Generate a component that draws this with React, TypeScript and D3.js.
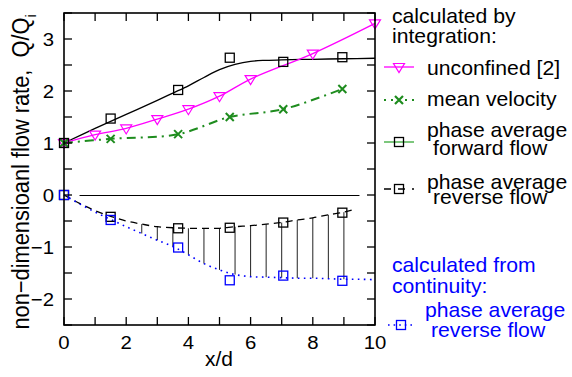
import React from "react";
import * as d3 from "d3";

// marker positions (x/d) shared by the measured series
const measX = [0, 1.5, 3.67, 5.33, 7.05, 8.95];

// unconfined [2]
const unconfX = [0, 1, 2, 3, 4, 5, 6, 8, 10];
const unconfY = [1.0, 1.16, 1.28, 1.46, 1.65, 1.9, 2.23, 2.72, 3.3];

// mean velocity
const meanY = [1.0, 1.08, 1.17, 1.5, 1.65, 2.04];

// phase average forward flow (points + fitted curve)
const fwdY = [1.0, 1.47, 2.02, 2.64, 2.56, 2.65];
const fwdFitX = [0, 1, 2, 3, 3.5, 4, 4.5, 5, 5.5, 6, 6.5, 7, 8, 9, 10];
const fwdFitY = [1.0, 1.28, 1.55, 1.82, 1.96, 2.1, 2.26, 2.41, 2.51, 2.57, 2.59, 2.6, 2.61, 2.62, 2.63];

// phase average reverse flow (points + fitted curve)
const revY = [0, -0.42, -0.64, -0.63, -0.53, -0.34];
const revFitX = [0, 0.5, 1, 1.5, 2, 2.5, 3, 3.5, 4, 4.5, 5, 5.5, 6, 6.5, 7, 7.5, 8, 8.5, 9, 9.25];
const revFitY = [0, -0.16, -0.3, -0.41, -0.5, -0.56, -0.61, -0.63, -0.64, -0.64, -0.64, -0.61, -0.59, -0.56, -0.53, -0.48, -0.44, -0.38, -0.33, -0.29];

// calculated from continuity (points + fitted curve)
const contY = [0, -0.48, -1.01, -1.64, -1.55, -1.65];
const contFitX = [0, 0.5, 1, 1.5, 2, 2.5, 3, 3.5, 4, 4.5, 5, 5.5, 6, 6.5, 7, 7.5, 8, 8.5, 9, 9.5, 10];
const contFitY = [0, -0.17, -0.33, -0.47, -0.61, -0.74, -0.87, -0.99, -1.15, -1.32, -1.44, -1.53, -1.57, -1.58, -1.59, -1.6, -1.6, -1.61, -1.62, -1.62, -1.63];

// vertical hatch between reverse flow curves
const hatchX = [2.5, 3, 3.5, 4, 4.5, 5, 5.5, 6, 6.5, 7, 7.5, 8, 8.5, 9];
const zeroLine = [0.5, 9.5];

const xTickLabels = [0, 2, 4, 6, 8, 10];
const yTickLabels = [-2, -1, 0, 1, 2, 3];

const GREEN = "#1e8c1e";
const MAGENTA = "#ff00ff";
const BLUE = "#0000ff";
const FONT = "'Liberation Sans', Arial, Helvetica, sans-serif";

const W = 572;
const H = 377;

const zip = (xs: number[], ys: number[]) => xs.map((x, i) => [x, ys[i]] as [number, number]);

const Square = ({ x, y, color }: { x: number; y: number; color: string }) => (
  <rect x={x - 4.5} y={y - 4.5} width={9} height={9} fill="none" stroke={color} strokeWidth={1.3} />
);

const Tri = ({ x, y }: { x: number; y: number }) => (
  <path d={`M${x - 5.5},${y - 3.5}L${x + 5.5},${y - 3.5}L${x},${y + 5.5}Z`} fill="none" stroke={MAGENTA} strokeWidth={1.2} />
);

const Cross = ({ x, y, w = 2 }: { x: number; y: number; w?: number }) => (
  <path d={`M${x - 4},${y - 4}L${x + 4},${y + 4}M${x - 4},${y + 4}L${x + 4},${y - 4}`} stroke={GREEN} strokeWidth={w} />
);

// text slightly stretched horizontally, like the source
const T = ({ x, y, size = 20, sx = 1.06, fill = "#000", anchor = "start", children }: any) => (
  <text
    transform={`translate(${x},${y}) scale(${sx},1)`}
    fontSize={size}
    fontFamily={FONT}
    fill={fill}
    textAnchor={anchor}
  >
    {children}
  </text>
);

export default function App() {
  const x = d3.scaleLinear().domain([0, 10]).range([64, 375]);
  const y = d3.scaleLinear().domain([-2.5, 3.5]).range([325, 13]);

  const smooth = d3
    .line<[number, number]>()
    .x((d) => x(d[0]))
    .y((d) => y(d[1]))
    .curve(d3.curveCatmullRom.alpha(0.5));

  const revMap = new Map(revFitX.map((v, i) => [v, revFitY[i]]));
  const contMap = new Map(contFitX.map((v, i) => [v, contFitY[i]]));

  const [x0, x1] = x.range();
  const [yb, yt] = y.range();
  const tl = 8;

  // legend symbol span
  const lx0 = 384;
  const lx1 = 414;
  const lxm = 399;

  return (
    <div style={{ position: "absolute", left: 0, top: 0 }}>
      <svg width={W} height={H} style={{ display: "block", background: "#fff" }}>
        {/* hatch */}
        <g stroke="#222" strokeWidth={1}>
          {hatchX.map((h) => (
            <line key={h} x1={x(h)} x2={x(h)} y1={y(revMap.get(h) as number)} y2={y(contMap.get(h) as number)} />
          ))}
        </g>

        {/* zero line */}
        <line x1={x(zeroLine[0])} x2={x(zeroLine[1])} y1={Math.round(y(0)) + 0.5} y2={Math.round(y(0)) + 0.5} stroke="#000" strokeWidth={1.2} />

        {/* curves */}
        <path d={smooth(zip(fwdFitX, fwdFitY)) as string} fill="none" stroke="#000" strokeWidth={1.3} />
        <path d={smooth(zip(unconfX, unconfY)) as string} fill="none" stroke={MAGENTA} strokeWidth={1.3} />
        <path d={smooth(zip(measX, meanY)) as string} fill="none" stroke={GREEN} strokeWidth={2} strokeDasharray="9,5,2,5" />
        <path d={smooth(zip(revFitX, revFitY)) as string} fill="none" stroke="#000" strokeWidth={1.3} strokeDasharray="7,5" />
        <path d={smooth(zip(contFitX, contFitY)) as string} fill="none" stroke={BLUE} strokeWidth={1.6} strokeDasharray="1.6,4.4" />

        {/* markers */}
        {unconfX.map((v, i) => (
          <Tri key={"u" + i} x={x(v)} y={y(unconfY[i])} />
        ))}
        {measX.map((v, i) => (
          <Cross key={"m" + i} x={x(v)} y={y(meanY[i])} />
        ))}
        {measX.map((v, i) => (
          <Square key={"f" + i} x={x(v)} y={y(fwdY[i])} color="#000" />
        ))}
        {measX.map((v, i) => (
          <Square key={"r" + i} x={x(v)} y={y(revY[i])} color="#000" />
        ))}
        {measX.map((v, i) => (
          <Square key={"c" + i} x={x(v)} y={y(contY[i])} color={BLUE} />
        ))}

        {/* frame */}
        <rect x={x0} y={yt} width={x1 - x0} height={yb - yt} fill="none" stroke="#000" strokeWidth={1.6} />
        <g stroke="#000" strokeWidth={1.3}>
          {x.ticks(10).map((t) => (
            <g key={"xt" + t}>
              <line x1={x(t)} x2={x(t)} y1={yb} y2={yb - tl} />
              <line x1={x(t)} x2={x(t)} y1={yt} y2={yt + tl} />
            </g>
          ))}
          {y.ticks(12).map((t) => (
            <g key={"yt" + t}>
              <line x1={x0} x2={x0 + tl} y1={y(t)} y2={y(t)} />
              <line x1={x1} x2={x1 - tl} y1={y(t)} y2={y(t)} />
            </g>
          ))}
        </g>

        {/* tick labels */}
        {xTickLabels.map((t) => (
          <T key={"xl" + t} x={x(t)} y={349} size={18.5} sx={1.1} anchor="middle">
            {t}
          </T>
        ))}
        {yTickLabels.map((t) => (
          <T key={"yl" + t} x={54} y={y(t) + 6.5} size={18.5} sx={1.1} anchor="end">
            {t < 0 ? "\u2212" + Math.abs(t) : t}
          </T>
        ))}

        {/* axis titles */}
        <T x={219} y={366} size={20} sx={1.05} anchor="middle">
          x/d
        </T>
        <text
          transform="translate(29,172) scale(1.1,1) rotate(-90)"
          fontSize={21.8}
          fontFamily={FONT}
          textAnchor="middle"
        >
          non{"\u2212"}dimensioanl flow rate,{"\u00a0\u00a0"}Q/Q
          <tspan fontSize={14} dy={6}>
            i
          </tspan>
        </text>

        {/* legend */}
        <T x={392} y={23}>calculated by</T>
        <T x={392} y={43}>integration:</T>

        <line x1={lx0} x2={lx1} y1={67} y2={67} stroke={MAGENTA} strokeWidth={1.3} />
        <Tri x={lxm} y={67} />
        <T x={427} y={75}>unconfined [2]</T>

        <line x1={lx0} x2={lx1} y1={100} y2={100} stroke={GREEN} strokeWidth={2} strokeDasharray="2,5" />
        <Cross x={lxm} y={100} w={2.2} />
        <T x={427} y={106}>mean velocity</T>

        <line x1={lx0} x2={lx1} y1={142} y2={142} stroke="#52b552" strokeWidth={1.5} />
        <Square x={lxm} y={142} color="#000" />
        <T x={427} y={137}>phase average</T>
        <T x={433} y={155}>forward flow</T>

        <line x1={lx0} x2={lx1} y1={189} y2={189} stroke="#000" strokeWidth={1.3} strokeDasharray="7,7" />
        <Square x={lxm} y={189} color="#000" />
        <T x={427} y={189}>phase average</T>
        <T x={433} y={204}>reverse flow</T>

        <T x={392} y={272} fill={BLUE}>
          calculated from
        </T>
        <T x={392} y={293} fill={BLUE}>
          continuity:
        </T>
        <line x1={388} x2={416} y1={325} y2={325} stroke={BLUE} strokeWidth={1.5} strokeDasharray="1.6,4" />
        <Square x={401} y={325} color={BLUE} />
        <T x={425} y={317} fill={BLUE}>
          phase average
        </T>
        <T x={431} y={337} fill={BLUE}>
          reverse flow
        </T>
      </svg>
    </div>
  );
}
